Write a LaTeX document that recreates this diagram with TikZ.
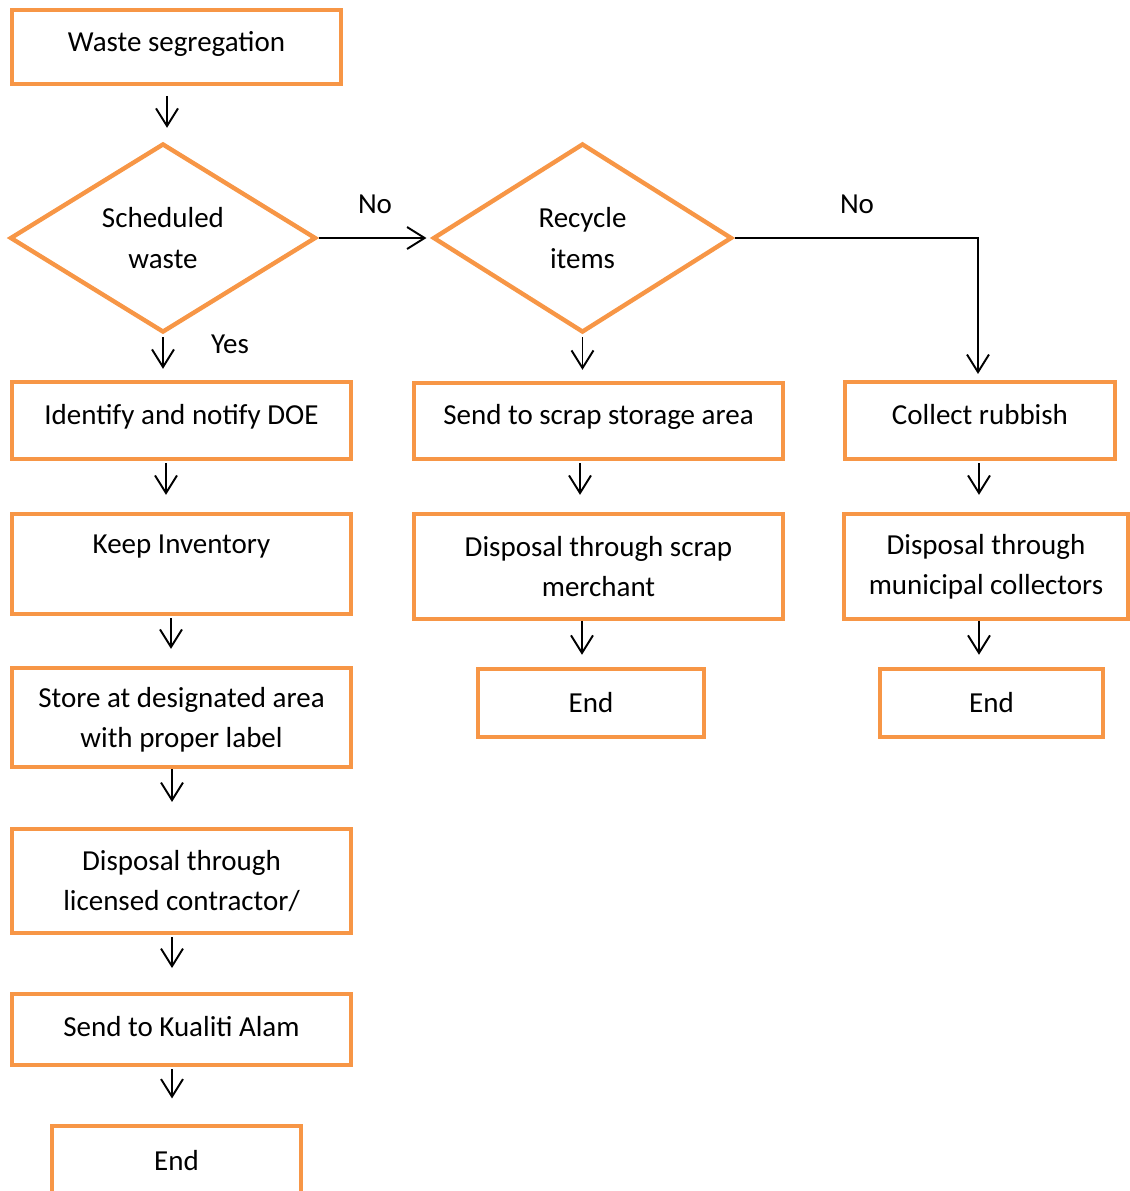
\documentclass[tikz,border=0pt]{standalone}
\usepackage{fontspec}
\setmainfont{Carlito}
\usepackage{tikz}
\usetikzlibrary{arrows.meta, shapes.geometric, positioning}
\definecolor{boxorange}{HTML}{F79646}
\tikzset{>={Straight Barb[length=10pt,width=12.5pt]}}
\tikzset{
  every node/.append style={font=\fontsize{16.5}{23}\selectfont, align=center},
  stepbox/.style={draw=boxorange, line width=2.5pt, rectangle, inner sep=0pt},
  choice/.style={draw=boxorange, line width=2.5pt, diamond, inner sep=0pt, minimum width=6.12cm, minimum height=3.78cm},
  lift/.style={text height=12pt, text depth=#1},
  flow/.style={->, line width=1.1pt, black}
}

\begin{document}
\begin{tikzpicture}[x=0.02cm, y=-0.02cm]

			\useasboundingbox (0,0) rectangle (1130,1191);

			% left column
			\node [stepbox, lift=6.4pt, minimum width=6.57cm, minimum height=1.47cm] (waste) at (176.5,47) {Waste segregation};
			\node [choice] (sched) at (163,238) {Scheduled\\waste};
			\node [stepbox, lift=8pt, minimum width=6.77cm, minimum height=1.53cm] (identify) at (181.5,420.5) {Identify and notify DOE};
			\node [stepbox, minimum width=6.77cm, minimum height=1.99cm] (keep) at (181.5,564) {Keep Inventory\\~};
			\node [stepbox, text depth=0pt, minimum width=6.77cm, minimum height=1.97cm] (store) at (181.5,717.5) {Store at designated area\\with proper label};
			\node [stepbox, minimum width=6.77cm, minimum height=2.07cm] (contractor) at (181.5,881) {Disposal through\\licensed contractor/};
			\node [stepbox, lift=4.6pt, minimum width=6.77cm, minimum height=1.41cm] (kualiti) at (181.5,1029.5) {Send to Kualiti Alam};
			\node [stepbox, minimum width=4.97cm, minimum height=1.41cm] (endA) at (176.5,1161) {End};

			% middle column
			\node [choice, minimum width=5.98cm] (recycle) at (582.5,238) {Recycle\\items};
			\node [stepbox, lift=8pt, minimum width=7.37cm, minimum height=1.51cm] (scrap) at (598.5,421) {Send to scrap storage area};
			\node [stepbox, minimum width=7.37cm, minimum height=2.09cm] (merchant) at (598.5,566.5) {Disposal through scrap\\merchant};
			\node [stepbox, minimum width=4.51cm, minimum height=1.35cm] (endB) at (591,703) {End};

			% right column
			\node [stepbox, lift=8pt, minimum width=5.39cm, minimum height=1.53cm] (rubbish) at (980,420.5) {Collect rubbish};
			\node [stepbox, minimum width=5.67cm, minimum height=2.09cm] (municipal) at (986,566.5) {Disposal through\\municipal collectors};
			\node [stepbox, minimum width=4.45cm, minimum height=1.35cm] (endC) at (991.5,703) {End};

			% answers
			\node (noA) at (375,204) {No};
			\node (yes) at (230,344) {Yes};
			\node (noB) at (857,204) {No};

			% connectors
			\draw [flow, shorten <=5.7pt, shorten >=7.7pt] (waste.south -| 167,0) -- (sched.north -| 167,0);
			\draw [flow, shorten <=1.5pt, shorten >=6.4pt] (sched.south) -- (identify.north -| sched.south);
			\draw [flow, shorten <=0.5pt, shorten >=2.5pt] (sched.east) -- (recycle.west);
			\draw [flow, shorten <=1.3pt, shorten >=9.8pt] (identify.south -| 166,0) -- (keep.north -| 166,0);
			\draw [flow, shorten <=1.3pt, shorten >=9.8pt] (keep.south -| 171,0) -- (store.north -| 171,0);
			\draw [flow, shorten >=14.3pt] (store.south -| 172,0) -- (contractor.north -| 172,0);
			\draw [flow, shorten <=1.3pt, shorten >=13.7pt] (contractor.south -| 172,0) -- (kualiti.north -| 172,0);
			\draw [flow, shorten <=1.3pt, shorten >=14.3pt] (kualiti.south -| 172,0) -- (endA.north -| 172,0);

			\draw [flow, shorten <=1.5pt, shorten >=6.4pt] (recycle.south) -- (scrap.north -| recycle.south);
			\draw [flow, shorten <=1.3pt, shorten >=9.8pt] (scrap.south -| 580,0) -- (merchant.north -| 580,0);
			\draw [flow, shorten >=7pt] (merchant.south -| 582,0) -- (endB.north -| 582,0);

			\draw [flow, shorten <=0.5pt, shorten >=3.5pt] (recycle.east) -| (rubbish.north -| 978,0);
			\draw [flow, shorten <=1.3pt, shorten >=9.8pt] (rubbish.south -| 979,0) -- (municipal.north -| 979,0);
			\draw [flow, shorten >=7pt] (municipal.south -| 979,0) -- (endC.north -| 979,0);

\end{tikzpicture}
\end{document}
